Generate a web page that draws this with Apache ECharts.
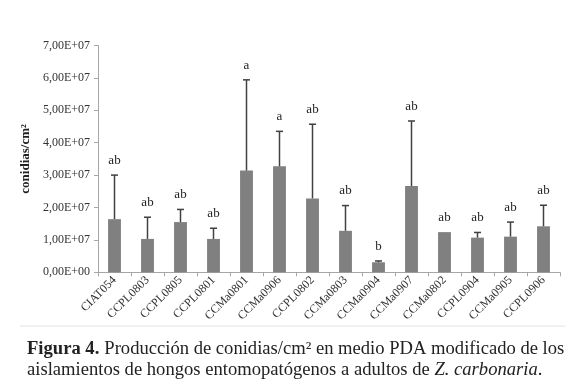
<!DOCTYPE html>
<html>
<head>
<meta charset="utf-8">
<script src="https://cdn.jsdelivr.net/npm/echarts@6/dist/echarts.min.js"></script>
<style>
  html, body { margin: 0; padding: 0; background: #fff; }
  #chart { width: 580px; height: 384px; }
</style>
</head>
<body>
<div id="chart"></div>
<script>
const categories = ['CIAT054', 'CCPL0803', 'CCPL0805', 'CCPL0801', 'CCMa0801', 'CCMa0906', 'CCPL0802',
  'CCMa0803', 'CCMa0904', 'CCMa0907', 'CCMa0802', 'CCPL0904', 'CCMa0905', 'CCPL0906'];
const means = [1.64e7, 1.03e7, 1.55e7, 1.03e7, 3.14e7, 3.27e7, 2.28e7, 1.28e7, 0.31e7, 2.66e7, 1.24e7, 1.07e7, 1.10e7, 1.42e7];
const upper = [3.0e7, 1.70e7, 1.94e7, 1.36e7, 5.94e7, 4.35e7, 4.57e7, 2.06e7, 0.35e7, 4.67e7, 1.24e7, 1.23e7, 1.55e7, 2.07e7];
const letters = ['ab', 'ab', 'ab', 'ab', 'a', 'a', 'ab', 'ab', 'b', 'ab', 'ab', 'ab', 'ab', 'ab'];
const yTickLabels = ['0,00E+00', '1,00E+07', '2,00E+07', '3,00E+07', '4,00E+07', '5,00E+07', '6,00E+07', '7,00E+07'];

const serif = '"Liberation Serif", "DejaVu Serif", serif';
const chart = echarts.init(document.getElementById('chart'));

const errData = categories.map((c, i) => [i, means[i], upper[i], letters[i]]);

const option = {
  animation: false,
  title: {
    text: '{b|Figura 4.} {n|Producción de conidias/cm² en medio PDA modificado de los}\n{n|aislamientos de hongos entomopatógenos a adultos de }{it|Z. carbonaria}{n|.}',
    left: 22,
    top: 334,
    textStyle: {
      fontWeight: 'normal',
      rich: {
        b: { fontFamily: serif, fontWeight: 'bold', fontSize: 18.6, color: '#222', lineHeight: 21 },
        n: { fontFamily: serif, fontWeight: 'normal', fontSize: 18.6, color: '#222', lineHeight: 21 },
        it: { fontFamily: serif, fontWeight: 'normal', fontStyle: 'italic', fontSize: 18.6, color: '#222', lineHeight: 21 },
      },
    },
  },
  graphic: [
    {
      type: 'line',
      shape: { x1: 20, y1: 326, x2: 565, y2: 326 },
      style: { stroke: '#e2e2e2', lineWidth: 1 },
    },
  ],
  grid: {
    left: 98,
    right: 20,
    top: 45.5,
    bottom: 111.7,
  },
  xAxis: {
    type: 'category',
    data: categories,
    axisLine: { lineStyle: { color: '#a6a6a6', width: 1 } },
    axisTick: { show: true, length: 4, lineStyle: { color: '#a6a6a6' } },
    axisLabel: {
      rotate: 45,
      interval: 0,
      margin: 6,
      fontFamily: serif,
      fontSize: 12,
      color: '#333',
    },
  },
  yAxis: {
    type: 'value',
    min: 0,
    max: 7e7,
    interval: 1e7,
    name: 'conidias/cm²',
    nameLocation: 'middle',
    nameRotate: 90,
    nameGap: 56,
    nameTextStyle: { fontFamily: serif, fontWeight: 'bold', fontSize: 13, color: '#222' },
    axisLine: { show: true, lineStyle: { color: '#a6a6a6', width: 1 } },
    axisTick: { show: true, length: 4, lineStyle: { color: '#a6a6a6' } },
    splitLine: { show: false },
    axisLabel: {
      margin: 8,
      fontFamily: serif,
      fontSize: 12,
      color: '#333',
      formatter: (v) => yTickLabels[Math.round(v / 1e7)],
    },
  },
  series: [
    {
      type: 'bar',
      data: means,
      barWidth: '39%',
      itemStyle: { color: '#808080' },
    },
    {
      type: 'custom',
      data: errData,
      z: 10,
      renderItem: (params, api) => {
        const i = api.value(0);
        const base = api.coord([i, api.value(1)]);
        const top = api.coord([i, api.value(2)]);
        const children = [];
        if (api.value(2) > api.value(1)) {
          children.push({
            type: 'line',
            shape: { x1: base[0], y1: base[1], x2: top[0], y2: top[1] },
            style: { stroke: '#404040', lineWidth: 1.5 },
          });
          children.push({
            type: 'line',
            shape: { x1: top[0] - 3.5, y1: top[1], x2: top[0] + 3.5, y2: top[1] },
            style: { stroke: '#404040', lineWidth: 1.5 },
          });
        }
        children.push({
          type: 'text',
          x: top[0],
          y: top[1] - 8,
          style: {
            text: errData[params.dataIndex][3],
            fontFamily: serif,
            fontSize: 13,
            fill: '#222',
            align: 'center',
            verticalAlign: 'bottom',
          },
        });
        return { type: 'group', children };
      },
    },
  ],
};

chart.setOption(option);
window.addEventListener('resize', () => chart.resize());
</script>
</body>
</html>
